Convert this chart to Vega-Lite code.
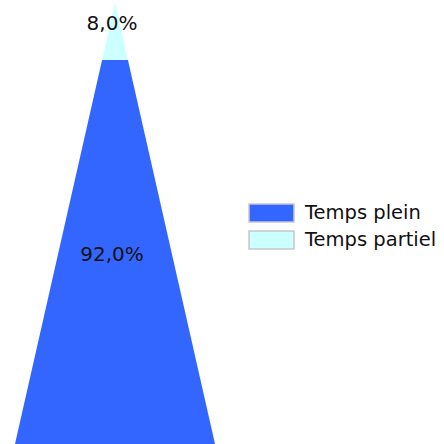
{
  "$schema": "https://vega.github.io/schema/vega-lite/v6.json",
  "width": 444,
  "height": 444,
  "autosize": {"type": "none"},
  "padding": 0,
  "background": "white",
  "config": {"view": {"stroke": null}, "font": "DejaVu Sans"},
  "datasets": {
    "shape": [
      {"serie": "Temps partiel", "level": 0},
      {"serie": "Temps partiel", "level": 8},
      {"serie": "Temps plein", "level": 8},
      {"serie": "Temps plein", "level": 100}
    ],
    "labels": [
      {"serie": "Temps partiel", "share": 0.08, "level": 3},
      {"serie": "Temps plein", "share": 0.92, "level": 35.4}
    ]
  },
  "layer": [
    {
      "data": {"name": "shape"},
      "transform": [{"calculate": "-datum.level", "as": "neg"}],
      "mark": {"type": "area", "orient": "horizontal", "clip": true},
      "encoding": {
        "y": {"field": "level", "type": "quantitative", "scale": {"domain": [-0.421, 61.89], "reverse": true, "nice": false, "zero": false}, "axis": null},
        "x": {"field": "level", "type": "quantitative", "scale": {"domain": [-71.17, 203.6], "nice": false, "zero": false}, "axis": null, "stack": null},
        "x2": {"field": "neg"},
        "color": {
          "field": "serie",
          "type": "nominal",
          "scale": {"domain": ["Temps plein", "Temps partiel"], "range": ["#3366FF", "#CCFFFF"]},
          "legend": {
            "title": null,
            "orient": "none",
            "legendX": 260.5,
            "legendY": 202,
            "symbolType": "M-2.25,-0.9H2.25V0.9H-2.25Z",
            "symbolSize": 400,
            "symbolStrokeColor": "#c8c8c8",
            "symbolStrokeWidth": 1.5,
            "symbolOpacity": 1,
            "labelFont": "DejaVu Sans",
            "labelFontSize": 19.5,
            "labelColor": "#111111",
            "labelOffset": 22.5,
            "rowPadding": 3,
            "padding": 0
          }
        }
      }
    },
    {
      "data": {"name": "labels"},
      "transform": [
        {"calculate": "replace(format(datum.share, '.1%'), '.', ',')", "as": "txt"},
        {"calculate": "0", "as": "center"}
      ],
      "mark": {"type": "text", "font": "DejaVu Sans", "fontSize": 20, "color": "#111111", "baseline": "middle", "align": "center", "dx": -3},
      "encoding": {
        "y": {"field": "level", "type": "quantitative"},
        "x": {"field": "center", "type": "quantitative"},
        "text": {"field": "txt"}
      }
    }
  ]
}
